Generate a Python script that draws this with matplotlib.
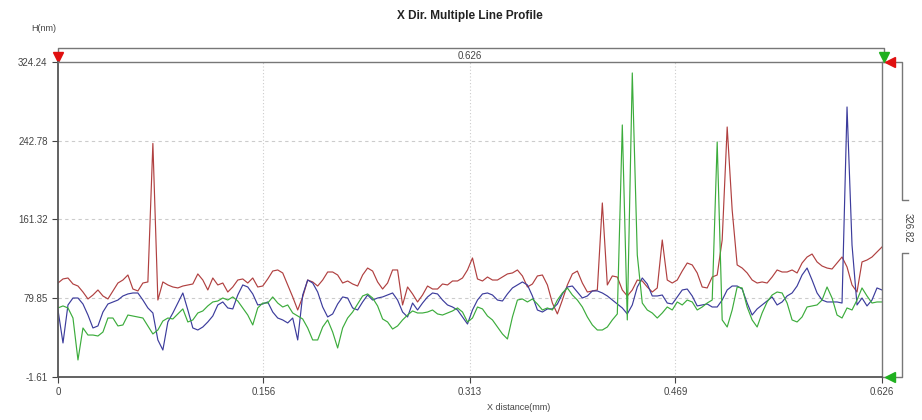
import numpy as np
import matplotlib
matplotlib.use('Agg')
from matplotlib import pyplot as plt

plt.rcParams['font.family'] = ['Liberation Sans', 'DejaVu Sans']

TITLE = 'X Dir. Multiple Line Profile'
X_LABEL = 'X distance(mm)'
Y_LABEL = 'H(nm)'
X_MAX = 0.626
Y_MIN, Y_MAX = -1.61, 324.24
X_TICKS = [0, 0.156, 0.313, 0.469, 0.626]
X_TICK_LABELS = ['0', '0.156', '0.313', '0.469', '0.626']
Y_TICKS = [-1.61, 79.85, 161.32, 242.78, 324.24]
Y_TICK_LABELS = ['-1.61', '79.85', '161.32', '242.78', '324.24']
WIDTH_LABEL = '0.626'
HEIGHT_LABEL = '326.82'

# heights (nm) of the three profiles, sampled evenly along 0 .. 0.626 mm
red_profile = [
  95.6, 99.8, 100.8, 94.6, 92.5, 86.3, 79.1, 83.2, 88.4, 82.2,
  79.1, 87.4, 95.6, 98.7, 103.9, 89.4, 87.4, 95.6, 96.7, 240.0,
  78.0, 96.7, 93.6, 91.5, 90.5, 92.5, 93.6, 94.6, 105.0, 98.7,
  88.4, 100.8, 93.6, 95.6, 86.3, 91.5, 98.7, 99.8, 95.6, 100.8,
  91.5, 92.5, 99.8, 108.0, 109.1, 106.0, 93.6, 81.2, 67.7, 81.2,
  98.7, 96.7, 92.5, 98.7, 107.0, 107.0, 103.9, 95.6, 97.7, 94.6,
  92.5, 103.9, 111.1, 108.0, 96.7, 89.4, 95.6, 109.1, 109.1, 72.9,
  91.5, 84.3, 76.0, 83.2, 92.5, 89.4, 89.4, 94.6, 93.6, 97.7,
  97.7, 100.8, 109.1, 121.5, 99.8, 97.7, 101.8, 98.7, 98.7, 101.8,
  105.0, 106.0, 109.1, 102.9, 91.5, 94.6, 102.9, 103.9, 93.6, 74.9,
  63.6, 78.0, 93.6, 105.0, 108.0, 95.6, 86.3, 87.4, 88.4, 178.4,
  93.6, 102.9, 101.8, 88.4, 82.2, 88.4, 98.7, 97.7, 91.5, 86.3,
  90.5, 140.1, 98.7, 95.6, 98.7, 108.0, 116.3, 114.3, 106.0, 91.5,
  90.5, 101.8, 103.9, 140.1, 257.0, 171.1, 114.3, 111.1, 106.0, 98.7,
  95.6, 96.7, 95.6, 101.8, 109.1, 107.0, 107.0, 109.1, 106.0, 116.3,
  122.5, 125.6, 117.4, 113.2, 111.1, 110.1, 116.3, 122.5, 112.2, 93.6,
  86.3, 117.4, 119.4, 122.5, 127.7, 132.9,
]

blue_profile = [
  67.7, 33.6, 72.9, 80.1, 80.1, 73.9, 62.5, 49.1, 51.2, 65.6,
  73.9, 76.0, 78.0, 82.2, 84.3, 85.3, 85.3, 78.0, 69.8, 64.6,
  36.7, 26.3, 55.3, 64.6, 74.9, 85.3, 67.7, 49.1, 47.0, 50.1,
  55.3, 61.5, 72.9, 76.0, 69.8, 68.8, 83.2, 93.6, 91.5, 84.3,
  72.9, 73.9, 76.0, 65.6, 59.4, 57.4, 54.3, 59.4, 36.7, 83.2,
  98.7, 95.6, 86.3, 70.8, 60.5, 63.6, 73.9, 81.2, 80.1, 69.8,
  67.7, 76.0, 83.2, 78.0, 80.1, 81.2, 83.2, 85.3, 78.0, 65.6,
  60.5, 74.9, 67.7, 74.9, 81.2, 85.3, 84.3, 78.0, 72.9, 70.8,
  67.7, 60.5, 53.2, 67.7, 78.0, 84.3, 85.3, 83.2, 78.0, 77.0,
  84.3, 90.5, 93.6, 96.7, 93.6, 82.2, 67.7, 65.6, 68.8, 68.8,
  73.9, 84.3, 91.5, 92.5, 86.3, 80.1, 82.2, 87.4, 87.4, 85.3,
  82.2, 78.0, 73.9, 69.8, 63.6, 72.9, 91.5, 100.8, 94.6, 82.2,
  82.2, 83.2, 74.9, 73.9, 81.2, 88.4, 89.4, 82.2, 71.9, 72.9,
  73.9, 70.8, 70.8, 78.0, 88.4, 92.5, 92.5, 89.4, 74.9, 62.5,
  68.8, 72.9, 77.0, 81.2, 72.9, 76.0, 82.2, 85.3, 92.5, 103.9,
  111.1, 98.7, 85.3, 78.0, 76.0, 76.0, 76.0, 74.9, 277.7, 134.9,
  72.9, 80.1, 71.9, 78.0, 90.5, 88.4,
]

green_profile = [
  69.8, 71.9, 69.8, 59.4, 16.0, 49.1, 41.8, 41.8, 40.8, 44.9,
  59.4, 59.4, 51.2, 52.2, 62.5, 61.5, 60.5, 59.4, 51.2, 42.9,
  47.0, 56.3, 59.4, 58.4, 63.6, 68.8, 55.3, 57.4, 64.6, 66.7,
  71.9, 76.0, 77.0, 80.1, 78.0, 81.2, 77.0, 69.8, 62.5, 52.2,
  69.8, 74.9, 74.9, 81.2, 74.9, 70.8, 72.9, 64.6, 61.5, 58.4,
  49.1, 36.7, 36.7, 50.1, 57.4, 44.9, 28.4, 49.1, 59.4, 65.6,
  73.9, 82.2, 84.3, 80.1, 71.9, 58.4, 55.3, 48.0, 51.2, 57.4,
  62.5, 66.7, 64.6, 64.6, 65.6, 67.7, 63.6, 62.5, 64.6, 66.7,
  69.8, 65.6, 55.3, 59.4, 70.8, 68.8, 61.5, 57.4, 50.1, 42.9,
  37.7, 60.5, 78.0, 79.1, 76.0, 79.1, 73.9, 67.7, 69.8, 67.7,
  78.0, 85.3, 90.5, 83.2, 78.0, 70.8, 60.5, 52.2, 47.0, 47.0,
  50.1, 57.4, 63.6, 259.1, 57.4, 312.9, 124.6, 74.9, 67.7, 64.6,
  59.4, 64.6, 70.8, 67.7, 76.0, 72.9, 78.0, 76.0, 67.7, 70.8,
  74.9, 78.0, 241.5, 57.4, 50.1, 67.7, 91.5, 90.5, 70.8, 57.4,
  50.1, 64.6, 76.0, 83.2, 86.3, 85.3, 74.9, 57.4, 55.3, 60.5,
  70.8, 71.9, 72.9, 78.0, 91.5, 80.1, 62.5, 59.4, 69.8, 67.7,
  78.0, 90.5, 82.2, 74.9, 76.0, 76.0,
]

x_mm = np.linspace(0, X_MAX, len(red_profile))

fig = plt.figure(figsize=(9.22, 4.2), dpi=100)
ax = fig.add_axes([0.0629, 0.1024, 0.8937, 0.75])

ax.plot(x_mm, red_profile, color='#b04040', linewidth=0.85)
ax.plot(x_mm, blue_profile, color='#3c3c9c', linewidth=0.85)
ax.plot(x_mm, green_profile, color='#3cac3c', linewidth=0.85)

ax.set_xlim(0, X_MAX)
ax.set_ylim(Y_MIN, Y_MAX)
ax.set_xticks(X_TICKS)
ax.set_xticklabels(X_TICK_LABELS)
ax.set_yticks(Y_TICKS)
ax.set_yticklabels(Y_TICK_LABELS)
ax.tick_params(labelsize=7, colors='#444444', length=4, width=0.8)

# grid: dashed horizontal, dotted vertical
for y in Y_TICKS[1:-1]:
  ax.axhline(y, color='#cccccc', linewidth=0.8, linestyle=(0, (3, 3)), zorder=0)
for x in X_TICKS[1:-1]:
  ax.axvline(x, color='#cccccc', linewidth=0.8, linestyle=(0, (1, 2)), zorder=0)

for lado in ('left', 'bottom'):
  ax.spines[lado].set_color('#555555')
  ax.spines[lado].set_linewidth(1.3)
for lado in ('top', 'right'):
  ax.spines[lado].set_color('#777777')
  ax.spines[lado].set_linewidth(1.0)

# dimension lines around the plot
tr = ax.transAxes
gris = '#777777'
ax.plot([0, 0, 1.002, 1.002], [1.0, 1.044, 1.044, 1.0], transform=tr, clip_on=False, color=gris, lw=1.0)
ax.plot([1.0, 1.024, 1.024, 1.032], [1.0, 1.0, 0.562, 0.562], transform=tr, clip_on=False, color=gris, lw=1.0)
ax.plot([1.032, 1.024, 1.024, 1.0], [0.394, 0.394, 0.0, 0.0], transform=tr, clip_on=False, color=gris, lw=1.0)
ax.text(0.5, 1.019, WIDTH_LABEL, transform=tr, ha='center', va='center', fontsize=7, color='#444444')
ax.text(1.0316, 0.475, HEIGHT_LABEL, transform=tr, ha='center', va='center', fontsize=7,
        color='#444444', rotation=270)

ax.plot([0], [1.017], marker='v', markersize=7, color='#e01010', transform=tr, clip_on=False)
ax.plot([1.002], [1.017], marker='v', markersize=7, color='#20b020', transform=tr, clip_on=False)
ax.plot([1.0095], [1.0], marker='<', markersize=7, color='#e01010', transform=tr, clip_on=False)
ax.plot([1.0095], [0.0], marker='<', markersize=7, color='#20b020', transform=tr, clip_on=False)

fig.text(0.51, 0.962, TITLE, ha='center', va='center', fontsize=8.5, fontweight='bold', color='#222222')
fig.text(0.047, 0.933, Y_LABEL, ha='center', va='center', fontsize=6.5, color='#444444')
fig.text(0.563, 0.029, X_LABEL, ha='center', va='center', fontsize=6.5, color='#444444')

fig.savefig('out.png', dpi=100)
